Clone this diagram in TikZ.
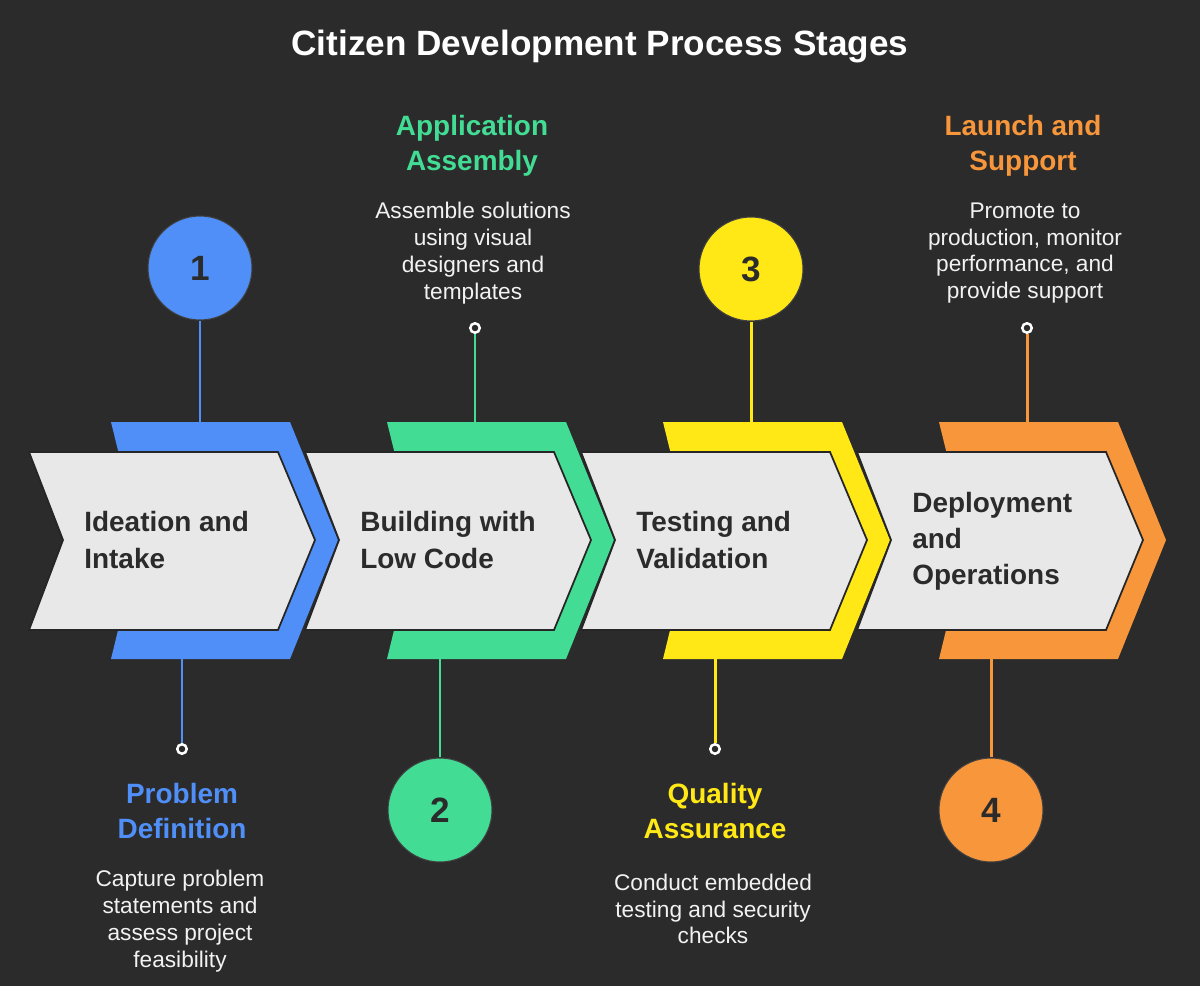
\documentclass[tikz,border=0pt]{standalone}
\usepackage{fontspec}
\setmainfont{Liberation Sans}
\usetikzlibrary{positioning, calc}
\definecolor{canvas}{HTML}{2B2B2B}
\definecolor{stageblue}{HTML}{4F8FF7}
\definecolor{stagegreen}{HTML}{42DC94}
\definecolor{stageyellow}{HTML}{FFE816}
\definecolor{stageorange}{HTML}{F7963B}
\definecolor{chevgray}{HTML}{E8E8E8}
\definecolor{inkdark}{HTML}{2B2B2B}
\tikzset{
  band/.style={fill=#1, draw=none},
  band/.default=stageblue,
  chev/.style={fill=chevgray, draw=black!85, line width=1pt, line join=miter},
  chevtext/.style={font=\fontsize{15.9}{20.6}\selectfont\bfseries, text=inkdark,
                   align=left, anchor=west, inner sep=0pt},
  numcirc/.style={circle, fill=#1, draw=black!75, line width=0.6pt, inner sep=0pt,
                  minimum size=2.08cm, font=\fontsize{20}{24}\selectfont\bfseries,
                  text=inkdark},
  pinline/.style={draw=#1, line width=1.7pt},
  pindot/.style={circle, draw=white, fill=canvas, line width=1.4pt, inner sep=0pt,
                 minimum size=0.19cm},
  stitle/.style={font=\fontsize{15.9}{19.8}\selectfont\bfseries, text=#1,
                 align=center, inner sep=0pt},
  sdesc/.style={font=\fontsize{12.9}{15.3}\selectfont, text=white!95!black,
                align=center, inner sep=0pt},
}

\begin{document}
\begin{tikzpicture}[x=0.02cm, y=-0.02cm]
  \fill[canvas] (0,0) rectangle (1200,986);
  \useasboundingbox (0,0) rectangle (1200,986);

  \node[font=\fontsize{20}{24}\selectfont\bfseries, text=white] (heading) at (600,46)
    {Citizen Development Process Stages};

  % circles, pins and texts
  \node[numcirc=stageblue] (num1) at (200,268) {1};
  \node[numcirc=stagegreen] (num2) at (440,810) {2};
  \node[numcirc=stageyellow] (num3) at (751,269) {3};
  \node[numcirc=stageorange] (num4) at (991,810) {4};

  \node[pindot] (pin1) at (182,749) {};
  \node[pindot] (pin2) at (475,328) {};
  \node[pindot] (pin3) at (715,749) {};
  \node[pindot] (pin4) at (1027,328) {};

  \coordinate (band1top) at (200,422);
  \coordinate (band1bot) at (182,659);
  \coordinate (band2top) at (475,422);
  \coordinate (band2bot) at (440,659);
  \coordinate (band3top) at (751,422);
  \coordinate (band3bot) at (715,659);
  \coordinate (band4top) at (1027,422);
  \coordinate (band4bot) at (991,659);

  \draw[pinline=stageblue] (num1) -- (band1top);
  \draw[pinline=stageblue] (band1bot) -- (pin1);
  \draw[pinline=stagegreen] (pin2) -- (band2top);
  \draw[pinline=stagegreen] (band2bot) -- (num2);
  \draw[pinline=stageyellow] (num3) -- (band3top);
  \draw[pinline=stageyellow] (band3bot) -- (pin3);
  \draw[pinline=stageorange] (pin4) -- (band4top);
  \draw[pinline=stageorange] (band4bot) -- (num4);

  \node[stitle=stageblue] (probtitle) at (182,811) {Problem\\Definition};
  \node[sdesc] (probdesc) at (180,921)
    {Capture problem\\statements and\\assess project\\feasibility};
  \node[stitle=stagegreen] (asmtitle) at (472,146) {Application\\Assembly};
  \node[sdesc] (asmdesc) at (473,253)
    {Assemble solutions\\using visual\\designers and\\templates};
  \node[stitle=stageyellow] (qatitle) at (715,811) {Quality\\Assurance};
  \node[sdesc] (qadesc) at (713,909)
    {Conduct embedded\\testing and security\\checks};
  \node[stitle=stageorange] (launchtitle) at (1023,146) {Launch and\\Support};
  \node[sdesc] (launchdesc) at (1025,253)
    {Promote to\\production, monitor\\performance, and\\provide support};

  % chevrons
  \path[band=stageblue] (111,422) -- (290,422) -- (338,540) -- (290,659) -- (111,659) -- (140,540) -- cycle;
  \draw[chev] (29,452) -- (278,452) -- (315,540) -- (278,630) -- (29,630) -- (63,540) -- cycle;
  \path[band=stagegreen] (387,422) -- (566,422) -- (614,540) -- (566,659) -- (387,659) -- (416,540) -- cycle;
  \draw[chev] (305,452) -- (554,452) -- (591,540) -- (554,630) -- (305,630) -- (339,540) -- cycle;
  \path[band=stageyellow] (663,422) -- (842,422) -- (890,540) -- (842,659) -- (663,659) -- (692,540) -- cycle;
  \draw[chev] (581,452) -- (830,452) -- (867,540) -- (830,630) -- (581,630) -- (615,540) -- cycle;
  \path[band=stageorange] (939,422) -- (1118,422) -- (1166,540) -- (1118,659) -- (939,659) -- (968,540) -- cycle;
  \draw[chev] (857,452) -- (1106,452) -- (1143,540) -- (1106,630) -- (857,630) -- (891,540) -- cycle;

  \node[chevtext] (ideation) at (84,540) {Ideation and\\Intake};
  \node[chevtext] (building) at (360,540) {Building with\\Low Code};
  \node[chevtext] (testing) at (636,540) {Testing and\\Validation};
  \node[chevtext] (deploy) at (912,541) {Deployment\\and\\Operations};
\end{tikzpicture}
\end{document}
